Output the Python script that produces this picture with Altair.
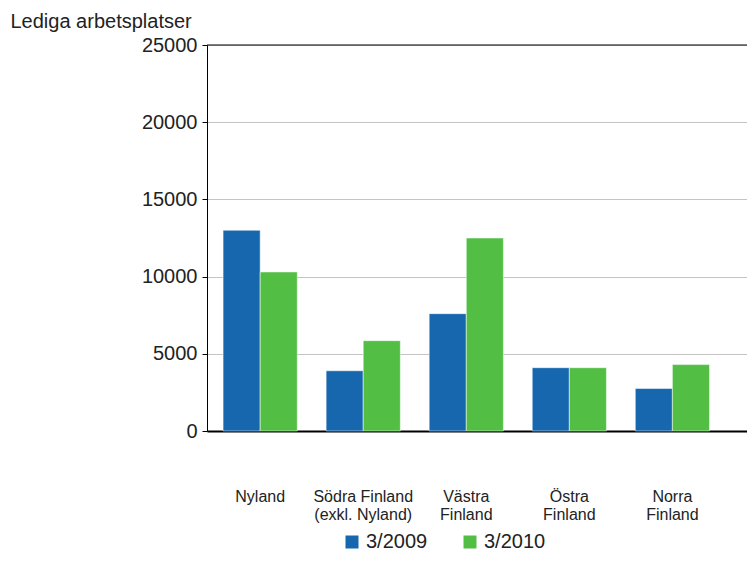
import altair as alt
import pandas as pd

categories = ["Nyland", "Södra Finland\n(exkl. Nyland)", "Västra\nFinland", "Östra\nFinland", "Norra\nFinland"]
series = ["3/2009", "3/2010"]
values_2009 = [13000, 3900, 7600, 4100, 2750]
values_2010 = [10300, 5850, 12500, 4100, 4300]
y_ticks = [0, 5000, 10000, 15000, 20000, 25000]
y_title = "Lediga arbetsplatser"
colors = ["#1767AF", "#52BF44"]

rows = []
for c, a, b in zip(categories, values_2009, values_2010):
    rows.append({"region": c, "period": series[0], "value": a})
    rows.append({"region": c, "period": series[1], "value": b})
df = pd.DataFrame(rows)

FONT = "Liberation Sans"

bars = alt.Chart(df).mark_bar(stroke="white", strokeWidth=1, strokeOpacity=0.5).encode(
    x=alt.X("region:N", sort=categories, title=None,
            scale=alt.Scale(paddingInner=0.28, paddingOuter=0.26, align=0.3),
            axis=alt.Axis(labelAngle=0, ticks=False, labelPadding=57, labelBaseline="top",
                          labelExpr="split(datum.label, '\\n')", labelLineHeight=18,
                          labelFontSize=16, labelFont=FONT, labelColor="#222222",
                          domainColor="#000000", domainWidth=2, grid=False)),
    xOffset=alt.XOffset("period:N", sort=series, scale=alt.Scale(paddingInner=0, paddingOuter=0)),
    y=alt.Y("value:Q", scale=alt.Scale(domain=[0, 25000], nice=False),
            axis=alt.Axis(values=y_ticks, title=y_title, titleAngle=0, titleAlign="left",
                          titleBaseline="alphabetic", titleX=-197, titleY=-18,
                          titleFont=FONT, titleFontSize=20, titleFontWeight="normal", titleColor="#222222",
                          labelFont=FONT, labelFontSize=20, labelColor="#222222", labelPadding=5,
                          tickColor="#000000", tickSize=5, domainColor="#000000", domainWidth=1,
                          gridColor="#c4c4c4", gridWidth=1, format="d")),
    color=alt.Color("period:N", sort=series, scale=alt.Scale(domain=series, range=colors),
                    legend=alt.Legend(title=None, orient="none", legendX=135, legendY=487,
                                      direction="horizontal", columns=2, symbolType="square",
                                      symbolSize=169, symbolStrokeWidth=0, symbolOpacity=1,
                                      labelFont=FONT, labelFontSize=20, labelColor="#222222",
                                      labelOffset=4, columnPadding=32)),
)

top_rule = alt.Chart(pd.DataFrame({"y": [y_ticks[-1]]})).mark_rule(color="#000000", strokeWidth=1).encode(
    y=alt.Y("y:Q")
)

chart = alt.layer(bars, top_rule).properties(
    width=540, height=386,
    autosize=alt.AutoSizeParams(type="none"),
    padding={"left": 199, "top": 37, "right": 0, "bottom": 122},
).configure_view(stroke=None).configure(background="white")

chart.save("out.html", embed_options={"renderer": "svg", "actions": False})
